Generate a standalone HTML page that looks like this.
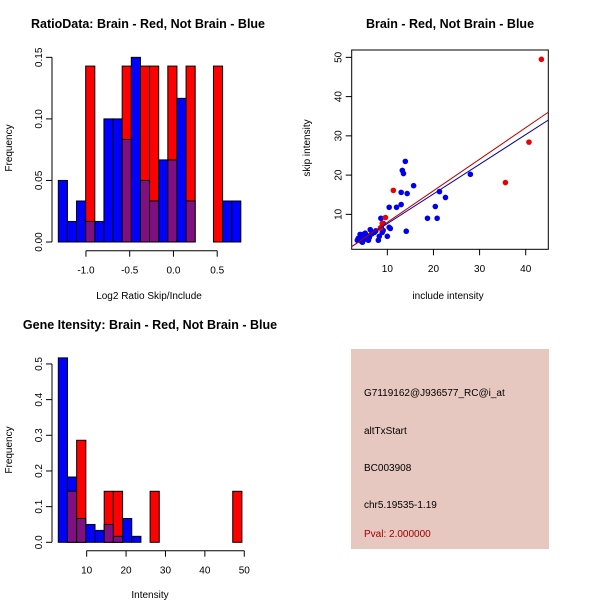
<!DOCTYPE html>
<html><head><meta charset="utf-8"><style>
body{margin:0;background:#fff}
svg text{font-family:"Liberation Sans",sans-serif;fill:#000}
</style></head><body>
<svg id="c" width="600" height="600" xmlns="http://www.w3.org/2000/svg">
<rect x="0" y="0" width="600" height="600" fill="#fff"/>
<text x="148" y="28" font-size="12.5" font-weight="bold" text-anchor="middle">RatioData: Brain - Red, Not Brain - Blue</text>
<text x="450" y="28" font-size="12.5" font-weight="bold" text-anchor="middle">Brain - Red, Not Brain - Blue</text>
<text x="150" y="329" font-size="12.5" font-weight="bold" text-anchor="middle">Gene Itensity: Brain - Red, Not Brain - Blue</text>
<text x="149" y="299" font-size="10" text-anchor="middle">Log2 Ratio Skip/Include</text>
<text x="12" y="148" font-size="10" text-anchor="middle" transform="rotate(-90 12 148)">Frequency</text>
<text x="448" y="299" font-size="10" text-anchor="middle">include intensity</text>
<text x="310" y="148" font-size="10" text-anchor="middle" transform="rotate(-90 310 148)">skip intensity</text>
<text x="150" y="598" font-size="10" text-anchor="middle">Intensity</text>
<text x="12" y="450" font-size="10" text-anchor="middle" transform="rotate(-90 12 450)">Frequency</text>
<g>
<rect x="351" y="349" width="198" height="200" fill="#e6c8c0"/>
<text x="364" y="396" font-size="10">G7119162@J936577_RC@i_at</text>
<text x="364" y="434" font-size="10">altTxStart</text>
<text x="364" y="471" font-size="10">BC003908</text>
<text x="364" y="508" font-size="10">chr5.19535-1.19</text>
<text x="364" y="537" font-size="10" style="fill:#a00000">Pval: 2.000000</text>
</g>
</svg>
<script>
// Ratio histogram data
const ratioStart = -1.316, ratioBinW = 0.1043;
const ratioBlue = [0.05,0.0167,0.0333,0.0167,0.0167,0.1,0.1,0.0833,0.15,0.05,0.0333,0.0667,0.0667,0.1167,0.0333,0,0,0,0.0333,0.0333];
const ratioRed  = [0,0,0,0.1429,0,0,0,0.1429,0,0.1429,0.1429,0,0.1429,0,0.1429,0,0,0.1429,0,0];
const ratioYTicks = [0,0.05,0.10,0.15];
const ratioYLabels = ["0.00","0.05","0.10","0.15"];
const ratioXTicks = [-1.0,-0.5,0.0,0.5];
const ratioXLabels = ["-1.0","-0.5","0.0","0.5"];
// Intensity histogram data
const intStart = 2.8, intBinW = 2.33;
const intBlue = [0.517,0.183,0.0667,0.05,0.0333,0.05,0.0167,0.0667,0.0167,0,0,0,0,0,0,0,0,0,0,0];
const intRed  = [0,0.143,0.286,0,0,0.143,0.143,0,0,0,0.143,0,0,0,0,0,0,0,0,0.143];
const intYTicks = [0,0.1,0.2,0.3,0.4,0.5];
const intYLabels = ["0.0","0.1","0.2","0.3","0.4","0.5"];
const intXTicks = [10,20,30,40,50];
const intXLabels = ["10","20","30","40","50"];
// Scatter data
const redX = [43.4,40.7,35.6,11.3,9.6,8.9,8.5];
const redY = [49.5,28.4,18.1,16.1,9.2,7.7,6.5];
const blueX = [13.9,13.25,13.5,28.0,15.7,13.0,14.3,21.3,22.6,13.0,10.4,12.0,20.4,8.6,18.7,20.8,14.1,10.4,10.65,10.0,6.3,8.05,8.26,8.9,9.1,8.7,9.1,7.2,6.1,5.9,5.2,4.8,4.4,4.0,3.7,4.4,4.6,4.8,5.3,3.5,4.1,4.8,5.6,6.6,7.5];
const blueY = [23.5,21.2,20.4,20.2,17.3,15.6,15.3,15.8,14.3,12.5,11.8,11.8,12.0,9.0,9.0,9.0,5.7,6.7,6.4,4.4,6.1,3.4,4.4,5.4,5.9,6.7,7.7,5.4,4.1,3.4,5.2,4.9,4.1,3.6,3.9,3.1,2.9,3.6,4.1,3.4,4.9,3.4,4.6,5.0,5.8];
const redFit = [-0.07,0.804];
const blueFit = [0.08,0.756];
const scXTicks = [10,20,30,40];
const scYTicks = [10,20,30,40,50];

const svg = document.getElementById('c');
const NS = 'http://www.w3.org/2000/svg';
function mk(tag, attrs, parent){const e=document.createElementNS(NS,tag);for(const k in attrs)e.setAttribute(k,attrs[k]);(parent||svg).appendChild(e);return e;}

function hist(name, start, bw, blue, red, x0px, pxPerX, y0px, pxPerY, yT, yL, xT, xL, axY){
  const g = mk('g',{});
  
  
  const sx = v => x0px + (v - start)*pxPerX;
  const sy = v => y0px - v*pxPerY;
  for(let i=0;i<blue.length;i++){
    const xa=sx(start+i*bw), xb=sx(start+(i+1)*bw);
    const b=blue[i], r=red[i];
    const mx=Math.max(b,r), mn=Math.min(b,r);
    const topColor = b>=r ? '#0000ff' : '#ff0000';
    const bar = mk('rect',{x:xa,y:sy(mx),width:xb-xa,height:y0px-sy(mx),fill:topColor,stroke:'#000','stroke-width':1},g);
    
    
    if(mn>0){
      const ov = mk('rect',{x:xa,y:sy(mn),width:xb-xa,height:y0px-sy(mn),fill:'#801080',stroke:'#000','stroke-width':1},g);
      
      
    }
  }
  const ax=52;
  mk('line',{x1:ax,x2:ax,y1:sy(yT[0]),y2:sy(yT[yT.length-1]),stroke:'#000'},g);
  yT.forEach((t,i)=>{
    mk('line',{x1:ax-6,x2:ax,y1:sy(t),y2:sy(t),stroke:'#000'},g);
    const tx = mk('text',{x:ax-10,y:sy(t),'font-size':10,'text-anchor':'middle',transform:`rotate(-90 ${ax-10} ${sy(t)})`},g);
    tx.textContent=yL[i];
    
    
  });
  mk('line',{x1:sx(xT[0]),x2:sx(xT[xT.length-1]),y1:axY,y2:axY,stroke:'#000'},g);
  xT.forEach((t,i)=>{
    mk('line',{x1:sx(t),x2:sx(t),y1:axY,y2:axY+6,stroke:'#000'},g);
    const tx = mk('text',{x:sx(t),y:axY+23,'font-size':10,'text-anchor':'middle'},g);
    tx.textContent=xL[i];
    
    
  });
}
hist('ratio-histogram', ratioStart, ratioBinW, ratioBlue, ratioRed, 58.3, 87.5, 242, 1231, ratioYTicks, ratioYLabels, ratioXTicks, ratioXLabels, 250.7);
hist('intensity-histogram', intStart, intBinW, intBlue, intRed, 58.3, 3.94, 542.3, 356.7, intYTicks, intYLabels, intXTicks, intXLabels, 550.7);

const sg = mk('g',{});


const scx = v => 341.2 + v*4.613;
const scy = v => 253.6 - v*3.925;
mk('rect',{x:351.7,y:50,width:196.6,height:199.3,fill:'none',stroke:'#000'},sg);
scXTicks.forEach(t=>{
  mk('line',{x1:scx(t),x2:scx(t),y1:249.3,y2:255.3,stroke:'#000'},sg);
  const tx=mk('text',{x:scx(t),y:272,'font-size':10,'text-anchor':'middle'},sg);
  tx.textContent=t;
  
  
});
scYTicks.forEach(t=>{
  mk('line',{x1:345.7,x2:351.7,y1:scy(t),y2:scy(t),stroke:'#000'},sg);
  const tx=mk('text',{x:341.5,y:scy(t),'font-size':10,'text-anchor':'middle',transform:`rotate(-90 341.5 ${scy(t)})`},sg);
  tx.textContent=t;
  
  
});
const clipId='scclip';
const cp=mk('clipPath',{id:clipId},sg);
mk('rect',{x:351.7,y:50,width:196.6,height:199.3},cp);
blueX.forEach((x,i)=>{
  const c=mk('circle',{cx:scx(x),cy:scy(blueY[i]),r:2.8,fill:'#0000ee'},sg);
  
  
});
redX.forEach((x,i)=>{
  const c=mk('circle',{cx:scx(x),cy:scy(redY[i]),r:2.8,fill:'#ee0000'},sg);
  
  
});
[[blueFit,'#0000aa','blue-fit-line'],[redFit,'#bb0000','red-fit-line']].forEach(([f,col,nm])=>{
  const xa=0, xb=50;
  const l=mk('line',{x1:scx(xa),y1:scy(f[0]+f[1]*xa),x2:scx(xb),y2:scy(f[0]+f[1]*xb),stroke:col,'stroke-width':1,'clip-path':'url(#'+clipId+')'},sg);
  
  
});
</script>
</body></html>
